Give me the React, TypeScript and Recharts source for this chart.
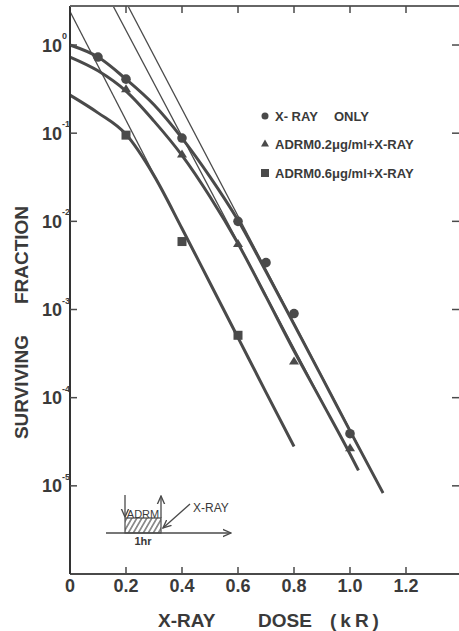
import React from "react"
import { ComposedChart, Line, Scatter, XAxis, YAxis, Legend } from "recharts"

// axis ticks
const doseTicks = [0, 0.2, 0.4, 0.6, 0.8, 1.0, 1.2]
const doseTickLabels = ["0", "0.2", "0.4", "0.6", "0.8", "1.0", "1.2"]
const topTicks = [0.2, 0.4, 0.6, 0.8, 1.0, 1.2]
const fractionTicks = [1e-5, 1e-4, 1e-3, 1e-2, 1e-1, 1]
const fractionExponents = ["-5", "-4", "-3", "-2", "-1", "0"]
const doseMax = 1.4
const fractionMax = 2.77

// measured points
const xrayDose = [0.1, 0.2, 0.4, 0.6, 0.7, 0.8, 1.0]
const xrayFraction = [0.73, 0.41, 0.088, 0.01, 0.0034, 0.0009, 0.000039]
const adrm02Dose = [0.2, 0.4, 0.6, 0.8, 1.0]
const adrm02Fraction = [0.32, 0.058, 0.0056, 0.00026, 0.000027]
const adrm06Dose = [0.2, 0.4, 0.6]
const adrm06Fraction = [0.095, 0.0059, 0.00051]

// fitted survival curves
const xrayCurveDose = [0, 0.1, 0.2, 0.3, 0.4, 0.5, 0.6, 0.7, 0.8, 0.9, 1.0, 1.118]
const xrayCurveFraction = [1.0, 0.73, 0.41, 0.21, 0.088, 0.032, 0.0103, 0.0027, 0.00068, 0.00017, 0.000042, 0.0000083]
const adrm02CurveDose = [0, 0.1, 0.2, 0.3, 0.4, 0.5, 0.6, 0.7, 0.8, 0.9, 1.0, 1.03]
const adrm02CurveFraction = [0.73, 0.51, 0.3, 0.137, 0.056, 0.019, 0.0056, 0.0014, 0.00034, 0.000089, 0.000023, 0.000015]
const adrm06CurveDose = [0, 0.1, 0.2, 0.3, 0.4, 0.5, 0.6, 0.7, 0.8]
const adrm06CurveFraction = [0.27, 0.17, 0.097, 0.033, 0.0083, 0.002, 0.00048, 0.000115, 0.000028]

// extrapolated straight portions
const xrayExtrapDose = [0.207, 1.118]
const xrayExtrapFraction = [2.77, 0.0000083]
const adrm02ExtrapDose = [0.154, 1.03]
const adrm02ExtrapFraction = [2.77, 0.000015]
const adrm06ExtrapDose = [0, 0.8]
const adrm06ExtrapFraction = [2.4, 0.000028]

const legendLabels = ["X- RAY", "ADRM0.2μg/ml+X-RAY", "ADRM0.6μg/ml+X-RAY"]

const rows = (xs: number[], ys: number[]) => xs.map((x, i) => ({ dose: x, fraction: ys[i] }))

const INK = "#4a4a4a"
const TEXT = "#3a3a3a"
const FONT = "'Liberation Sans', Arial, sans-serif"

// plot box (chart margins + axis sizes)
const PLOT_LEFT = 70
const PLOT_TOP = 6
const PLOT_W = 392

const circleShape = (p: any) => <circle cx={p.cx} cy={p.cy} r={4.8} fill={INK} />
const triangleShape = (p: any) => (
  <polygon points={`${p.cx},${p.cy - 4.5} ${p.cx + 5},${p.cy + 3.5} ${p.cx - 5},${p.cy + 3.5}`} fill={INK} />
)
const squareShape = (p: any) => <rect x={p.cx - 4.5} y={p.cy - 4.5} width={9} height={9} fill={INK} />

const BottomTick = (props: any) => {
  const { x, y, payload } = props
  const label = doseTickLabels[doseTicks.indexOf(payload.value)]
  return (
    <g>
      {payload.value > 0 && <line x1={x} y1={y} x2={x} y2={y - 7} stroke={INK} strokeWidth={1.5} />}
      <text x={x} y={y + 18} textAnchor="middle" fontFamily={FONT} fontWeight="bold" fontSize={18} fill={TEXT}>
        {label}
      </text>
    </g>
  )
}

const LeftTick = (props: any) => {
  const { x, y, payload } = props
  const exp = fractionExponents[fractionTicks.indexOf(payload.value)]
  return (
    <g>
      <line x1={x} y1={y} x2={x + 7} y2={y} stroke={INK} strokeWidth={1.5} />
      <text x={x - 8} y={y + 6.5} textAnchor="end" fontFamily={FONT} fontWeight="bold" fontSize={18} fill={TEXT}>
        10
      </text>
      <text x={x - 8} y={y - 6} textAnchor="start" fontFamily={FONT} fontWeight="bold" fontSize={9} fill={TEXT}>
        {exp}
      </text>
    </g>
  )
}

const RightTick = (props: any) => {
  const { x, y } = props
  return <line x1={x} y1={y} x2={x - 10} y2={y} stroke={INK} strokeWidth={1.5} />
}

const renderLegend = () => {
  const markers = [
    <circle key="c" cx={7} cy={10} r={3.5} fill={INK} />,
    <polygon key="t" points="7,33.5 11,40.5 3,40.5" fill={INK} />,
    <rect key="s" x={3} y={63} width={8} height={8} fill={INK} />,
  ]
  const rowY = [10, 38, 67]
  return (
    <svg width={190} height={80}>
      {markers}
      {legendLabels.map((label, i) => (
        <text key={label} x={17} y={rowY[i] + 5} fontFamily={FONT} fontWeight="bold" fontSize={13} fill={TEXT}>
          {label}
        </text>
      ))}
      <text x={76} y={15} fontFamily={FONT} fontWeight="bold" fontSize={13} fill={TEXT}>
        ONLY
      </text>
    </svg>
  )
}

export default function App() {
  return (
    <div style={{ position: "absolute", left: 0, top: 0, width: 459, height: 631, overflow: "hidden", background: "#fff" }}>
      <ComposedChart width={475} height={631} margin={{ top: PLOT_TOP, right: 12, bottom: 0, left: 0 }}>
        <XAxis
          type="number"
          dataKey="dose"
          domain={[0, doseMax]}
          ticks={doseTicks}
          height={57}
          tickSize={0}
          tickMargin={0}
          tickLine={false}
          tick={BottomTick}
          axisLine={{ stroke: INK, strokeWidth: 2 }}
          interval={0}
        />
        <YAxis
          type="number"
          dataKey="fraction"
          scale="log"
          domain={[1e-6, fractionMax]}
          allowDataOverflow
          ticks={fractionTicks}
          width={PLOT_LEFT}
          tickSize={0}
          tickMargin={0}
          tickLine={false}
          tick={LeftTick}
          axisLine={{ stroke: "#333", strokeWidth: 2 }}
          interval={0}
        />
        <YAxis
          yAxisId="right"
          orientation="right"
          type="number"
          scale="log"
          domain={[1e-6, fractionMax]}
          allowDataOverflow
          ticks={fractionTicks}
          width={1}
          tickSize={0}
          tickMargin={0}
          tickLine={false}
          tick={RightTick}
          axisLine={false}
          interval={0}
        />
        <Legend layout="vertical" align="center" verticalAlign="middle" content={renderLegend} wrapperStyle={{ left: 258, top: 106, width: 190 }} />

        <Line data={rows(adrm06ExtrapDose, adrm06ExtrapFraction)} dataKey="fraction" type="linear" stroke={INK} strokeWidth={1.3} dot={false} isAnimationActive={false} legendType="none" />
        <Line data={rows(adrm02ExtrapDose, adrm02ExtrapFraction)} dataKey="fraction" type="linear" stroke={INK} strokeWidth={1.3} dot={false} isAnimationActive={false} legendType="none" />
        <Line data={rows(xrayExtrapDose, xrayExtrapFraction)} dataKey="fraction" type="linear" stroke={INK} strokeWidth={1.3} dot={false} isAnimationActive={false} legendType="none" />

        <Line data={rows(xrayCurveDose, xrayCurveFraction)} dataKey="fraction" type="monotone" stroke={INK} strokeWidth={3} dot={false} isAnimationActive={false} />
        <Line data={rows(adrm02CurveDose, adrm02CurveFraction)} dataKey="fraction" type="monotone" stroke={INK} strokeWidth={3} dot={false} isAnimationActive={false} />
        <Line data={rows(adrm06CurveDose, adrm06CurveFraction)} dataKey="fraction" type="monotone" stroke={INK} strokeWidth={3} dot={false} isAnimationActive={false} />

        <Scatter name="X-RAY ONLY" data={rows(xrayDose, xrayFraction)} shape={circleShape} isAnimationActive={false} />
        <Scatter name="ADRM0.2" data={rows(adrm02Dose, adrm02Fraction)} shape={triangleShape} isAnimationActive={false} />
        <Scatter name="ADRM0.6" data={rows(adrm06Dose, adrm06Fraction)} shape={squareShape} isAnimationActive={false} />
      </ComposedChart>

      <svg width={459} height={631} style={{ position: "absolute", left: 0, top: 0, pointerEvents: "none" }}>
        <defs>
          <pattern id="hatch" width="5" height="15" patternUnits="userSpaceOnUse" patternTransform="skewX(-30)">
            <line x1="1" y1="0" x2="1" y2="15" stroke={INK} strokeWidth={1.3} />
          </pattern>
          <marker id="arr" viewBox="0 0 10 10" refX="9" refY="5" markerWidth="7" markerHeight="7" orient="auto">
            <path d="M0,1 L9,5 L0,9" fill="none" stroke={INK} strokeWidth={1.5} />
          </marker>
        </defs>
        {/* top frame with inward ticks */}
        <line x1={PLOT_LEFT} y1={PLOT_TOP} x2={PLOT_LEFT + PLOT_W} y2={PLOT_TOP} stroke="#666" strokeWidth={2} />
        {topTicks.map((t) => {
          const px = PLOT_LEFT + (t / doseMax) * PLOT_W
          return <line key={t} x1={px} y1={PLOT_TOP} x2={px} y2={PLOT_TOP + 7} stroke={INK} strokeWidth={1.5} />
        })}
        {/* axis titles */}
        <text transform="translate(28,387) rotate(-90)" textAnchor="middle" fontFamily={FONT} fontWeight="bold" fontSize={19} fill={TEXT}>
          SURVIVING
        </text>
        <text transform="translate(28,255) rotate(-90)" textAnchor="middle" fontFamily={FONT} fontWeight="bold" fontSize={19} fill={TEXT}>
          FRACTION
        </text>
        <text x={158} y={627} fontFamily={FONT} fontWeight="bold" fontSize={19} fill={TEXT}>
          X-RAY
        </text>
        <text x={258} y={627} fontFamily={FONT} fontWeight="bold" fontSize={19} fill={TEXT}>
          DOSE
        </text>
        <text x={330} y={627} fontFamily={FONT} fontWeight="bold" fontSize={19} letterSpacing={4} fill={TEXT}>
          (kR)
        </text>
        {/* treatment schedule inset */}
        <rect x={125} y={518} width={36} height={15} fill="url(#hatch)" stroke={INK} strokeWidth={1.2} />
        <line x1={106} y1={533} x2={231} y2={533} stroke={INK} strokeWidth={1.3} markerEnd="url(#arr)" />
        <line x1={125} y1={495} x2={125} y2={517} stroke={INK} strokeWidth={1.3} markerEnd="url(#arr)" />
        <line x1={161} y1={518} x2={161} y2={496} stroke={INK} strokeWidth={1.3} markerEnd="url(#arr)" />
        <line x1={190} y1={504} x2={163} y2={528} stroke={INK} strokeWidth={1.3} markerEnd="url(#arr)" />
        <text x={143} y={518} textAnchor="middle" fontFamily={FONT} fontSize={11} fill={TEXT}>
          ADRM
        </text>
        <text x={143} y={545} textAnchor="middle" fontFamily={FONT} fontWeight="bold" fontSize={11} fill={TEXT}>
          1hr
        </text>
        <text x={193} y={512} fontFamily={FONT} fontSize={12} fill={TEXT}>
          X-RAY
        </text>
      </svg>
    </div>
  )
}
